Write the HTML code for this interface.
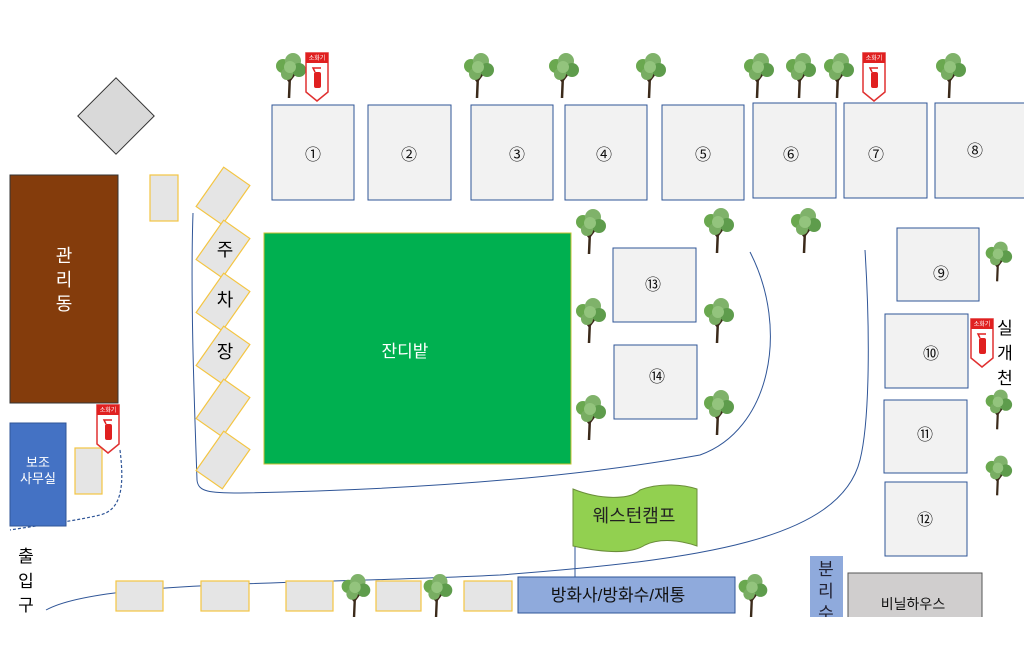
<!DOCTYPE html>
<html><head><meta charset="utf-8"><style>
body{margin:0;width:1024px;height:659px;background:#fff;overflow:hidden;font-family:"Liberation Sans","Noto Sans CJK KR",sans-serif}
</style></head><body>
<svg width="1024" height="659" viewBox="0 0 1024 659" xmlns="http://www.w3.org/2000/svg" font-family="Liberation Sans, Noto Sans CJK KR, sans-serif">
<defs>
<symbol id="tree" viewBox="0 0 34 46">
<path d="M16 46 L17 22 M17 30 L11 22 M17 28 L23 20" stroke="#3b2a1a" stroke-width="2.5" fill="none"/>
<circle cx="10" cy="14" r="7" fill="#6aa84f"/><circle cx="20" cy="9" r="8" fill="#7fb26a"/><circle cx="26" cy="18" r="7" fill="#5e9c4c"/><circle cx="14" cy="22" r="6" fill="#78ad62"/><circle cx="17" cy="15" r="6" fill="#93c47d"/>
</symbol>
<symbol id="ext" viewBox="0 0 24 50">
<path d="M1 1 H23 V40 L12 49 L1 40 Z" fill="#fff" stroke="#e03030" stroke-width="1.5"/>
<rect x="1" y="1" width="22" height="10" fill="#e02020"/>
<text x="12" y="8" font-size="6" fill="#fff" text-anchor="middle">소화기</text>
<rect x="9" y="20" width="7" height="16" rx="2" fill="#e02020"/><path d="M10 20 L8 16 H16" stroke="#e02020" fill="none" stroke-width="1.5"/>
</symbol>
</defs>
<!-- paths -->
<path d="M193 213 C190 300 195 420 197 480 C198 492 210 493 240 493 C400 490 560 480 700 455 C770 430 790 330 750 252" fill="none" stroke="#2f5597" stroke-width="1"/>
<path d="M865 250 C870 330 870 420 860 460 C840 540 700 560 500 575 C300 585 100 580 46 610" fill="none" stroke="#2f5597" stroke-width="1"/>
<path d="M120 450 C125 490 120 510 100 515 C70 522 40 525 10 530" fill="none" stroke="#2f5597" stroke-width="1.2" stroke-dasharray="3,2"/>
<!-- diamond -->
<rect x="89" y="89" width="54" height="54" transform="rotate(45 116 116)" fill="#d9d9d9" stroke="#333" stroke-width="1"/>
<!-- admin -->
<rect x="10" y="175" width="108" height="228" fill="#843c0c" stroke="#333"/>
<text x="64" y="262" font-size="18" fill="#fff" text-anchor="middle">관</text>
<text x="64" y="286" font-size="18" fill="#fff" text-anchor="middle">리</text>
<text x="64" y="310" font-size="18" fill="#fff" text-anchor="middle">동</text>
<rect x="10" y="423" width="56" height="103" fill="#4472c4" stroke="#2f5597"/>
<text x="38" y="467" font-size="13" fill="#fff" text-anchor="middle">보조</text>
<text x="38" y="483" font-size="13" fill="#fff" text-anchor="middle">사무실</text>
<g fill="#e5e5e5" stroke="#f4c542" stroke-width="1.2">
<rect x="150" y="175" width="28" height="46"/><rect x="75" y="448" width="27" height="46"/>
<rect x="116" y="581" width="47" height="30"/><rect x="201" y="581" width="48" height="30"/><rect x="286" y="581" width="47" height="30"/><rect x="376" y="581" width="45" height="30"/><rect x="464" y="581" width="48" height="30"/>
<g transform="translate(223,196) rotate(35)"><rect x="-16" y="-24" width="32" height="48"/></g>
<g transform="translate(223,249) rotate(35)"><rect x="-16" y="-24" width="32" height="48"/></g>
<g transform="translate(223,302) rotate(35)"><rect x="-16" y="-24" width="32" height="48"/></g>
<g transform="translate(223,355) rotate(35)"><rect x="-16" y="-24" width="32" height="48"/></g>
<g transform="translate(223,408) rotate(35)"><rect x="-16" y="-24" width="32" height="48"/></g>
<g transform="translate(223,460) rotate(35)"><rect x="-16" y="-24" width="32" height="48"/></g>
</g>
<text x="225" y="256" font-size="18" text-anchor="middle">주</text>
<text x="225" y="306" font-size="18" text-anchor="middle">차</text>
<text x="225" y="358" font-size="18" text-anchor="middle">장</text>
<!-- grass -->
<rect x="264" y="233" width="307" height="231" fill="#00b050" stroke="#c8c030"/>
<text x="405" y="357" font-size="17" fill="#fff" text-anchor="middle">잔디밭</text>
<!-- buildings -->
<g fill="#f2f2f2" stroke="#2f5597" stroke-width="1">
<rect x="272" y="105" width="82" height="95"/><rect x="368" y="105" width="83" height="95"/><rect x="471" y="105" width="82" height="95"/><rect x="565" y="105" width="82" height="95"/><rect x="662" y="105" width="82" height="95"/><rect x="753" y="103" width="83" height="95"/><rect x="844" y="103" width="83" height="95"/><rect x="935" y="103" width="95" height="95"/>
<rect x="897" y="228" width="82" height="73"/><rect x="613" y="248" width="83" height="74"/><rect x="614" y="345" width="83" height="74"/><rect x="885" y="314" width="83" height="74"/><rect x="884" y="400" width="83" height="73"/><rect x="885" y="482" width="82" height="74"/>
</g>
<g font-size="16" text-anchor="middle" fill="#111">
<text x="313" y="160">①</text><text x="409" y="160">②</text><text x="517" y="160">③</text><text x="604" y="160">④</text><text x="703" y="160">⑤</text><text x="791" y="160">⑥</text><text x="876" y="160">⑦</text><text x="975" y="156">⑧</text>
<text x="941" y="279">⑨</text><text x="653" y="290">⑬</text><text x="657" y="382">⑭</text><text x="931" y="359">⑩</text><text x="925" y="440">⑪</text><text x="925" y="525">⑫</text>
</g>
<text x="1005" y="334" font-size="17" text-anchor="middle">실</text>
<text x="1005" y="359" font-size="17" text-anchor="middle">개</text>
<text x="1005" y="384" font-size="17" text-anchor="middle">천</text>
<text x="26" y="562" font-size="17" text-anchor="middle">출</text>
<text x="26" y="587" font-size="17" text-anchor="middle">입</text>
<text x="26" y="611" font-size="17" text-anchor="middle">구</text>
<!-- flag -->
<line x1="575" y1="490" x2="575" y2="577" stroke="#2f5597"/>
<path d="M573 489 C600 500 630 500 640 490 C660 482 685 485 697 489 V546 C680 540 660 538 645 545 C630 555 600 552 573 546 Z" fill="#92d050" stroke="#6b8e3a"/>
<text x="634" y="522" font-size="18" text-anchor="middle" fill="#222">웨스턴캠프</text>
<!-- bottom -->
<rect x="518" y="577" width="217" height="36" fill="#8faadc" stroke="#2f5597"/>
<text x="618" y="601" font-size="17" text-anchor="middle" fill="#111">방화사/방화수/재통</text>
<rect x="810" y="556" width="33" height="62" fill="#8faadc"/>
<text x="826" y="575" font-size="17" text-anchor="middle" fill="#223">분</text>
<text x="826" y="597" font-size="17" text-anchor="middle" fill="#223">리</text>
<text x="826" y="619" font-size="17" text-anchor="middle" fill="#223">수</text>
<rect x="848" y="573" width="134" height="50" fill="#d0cece" stroke="#555"/>
<text x="913" y="609" font-size="14" text-anchor="middle" fill="#111">비닐하우스</text>
<rect x="0" y="617" width="1024" height="42" fill="#fff"/>
<!-- trees -->
<g>
<use href="#tree" x="273" y="52" width="34" height="46"/><use href="#tree" x="461" y="52" width="34" height="46"/><use href="#tree" x="546" y="52" width="34" height="46"/><use href="#tree" x="633" y="52" width="34" height="46"/><use href="#tree" x="741" y="52" width="34" height="46"/><use href="#tree" x="783" y="52" width="34" height="46"/><use href="#tree" x="821" y="52" width="34" height="46"/><use href="#tree" x="933" y="52" width="34" height="46"/>
<use href="#tree" x="573" y="208" width="34" height="46"/><use href="#tree" x="701" y="207" width="34" height="46"/><use href="#tree" x="788" y="207" width="34" height="46"/>
<use href="#tree" x="573" y="297" width="34" height="46"/><use href="#tree" x="701" y="297" width="34" height="46"/><use href="#tree" x="573" y="394" width="34" height="46"/><use href="#tree" x="701" y="389" width="34" height="46"/>
<use href="#tree" x="983" y="240" width="30" height="42"/><use href="#tree" x="983" y="388" width="30" height="42"/><use href="#tree" x="983" y="454" width="30" height="42"/>
<use href="#tree" x="338" y="573" width="34" height="44"/><use href="#tree" x="420" y="573" width="34" height="44"/><use href="#tree" x="735" y="573" width="34" height="44"/>
</g>
<use href="#ext" x="305" y="52" width="24" height="50"/><use href="#ext" x="862" y="52" width="24" height="50"/><use href="#ext" x="96" y="404" width="24" height="50"/><use href="#ext" x="970" y="318" width="24" height="50"/>
</svg>
</body></html>
